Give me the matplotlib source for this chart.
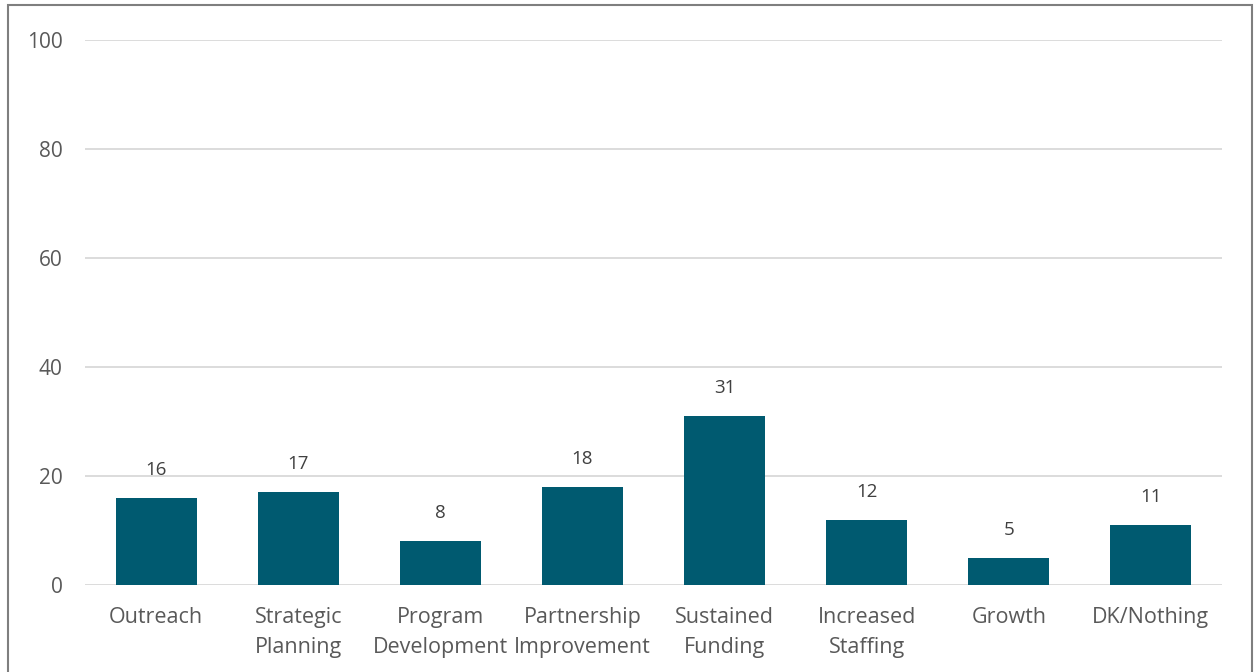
import matplotlib.pyplot as plt
from matplotlib.patches import Rectangle

categories = ["Outreach", "Strategic\nPlanning", "Program\nDevelopment",
              "Partnership\nImprovement", "Sustained\nFunding", "Increased\nStaffing",
              "Growth", "DK/Nothing"]
values = [16, 17, 8, 18, 31, 12, 5, 11]
yticks = [0, 20, 40, 60, 80, 100]

plt.rcParams['font.family'] = ['Open Sans', 'DejaVu Sans']

fig = plt.figure(figsize=(12.59, 6.72), dpi=100)
ax = fig.add_axes([85 / 1259, 1 - 585 / 672, (1222 - 85) / 1259, 545 / 672])

x = range(len(categories))
bars = ax.bar(x, values, width=0.57, color="#005a70", zorder=3)
for xi, v in zip(x, values):
    ax.text(xi, v + 3.5, str(v), ha="center", va="bottom", fontsize=13.5, color="#404040")

ax.set_xlim(-0.5, len(categories) - 0.5)
ax.set_ylim(0, 100)
ax.set_yticks(yticks)
ax.set_yticklabels([str(t) for t in yticks], fontsize=15)
ax.set_xticks(list(x))
ax.set_xticklabels(categories, linespacing=1.55, fontsize=15.5)
ax.grid(axis="y", color="#d9d9d9", linewidth=1.3, zorder=0)
ax.tick_params(axis="both", length=0, colors="#595959")
ax.tick_params(axis="y", pad=16)
ax.tick_params(axis="x", pad=16)
for s in ax.spines.values():
    s.set_visible(False)

# outer frame, open at the bottom edge
fig.patches.append(Rectangle((8 / 1259, -0.05), (1252 - 8) / 1259, 1.05 - 5 / 672,
                             transform=fig.transFigure, fill=False,
                             edgecolor="#7f7f7f", linewidth=1.5))

fig.savefig("out.png", dpi=100)
